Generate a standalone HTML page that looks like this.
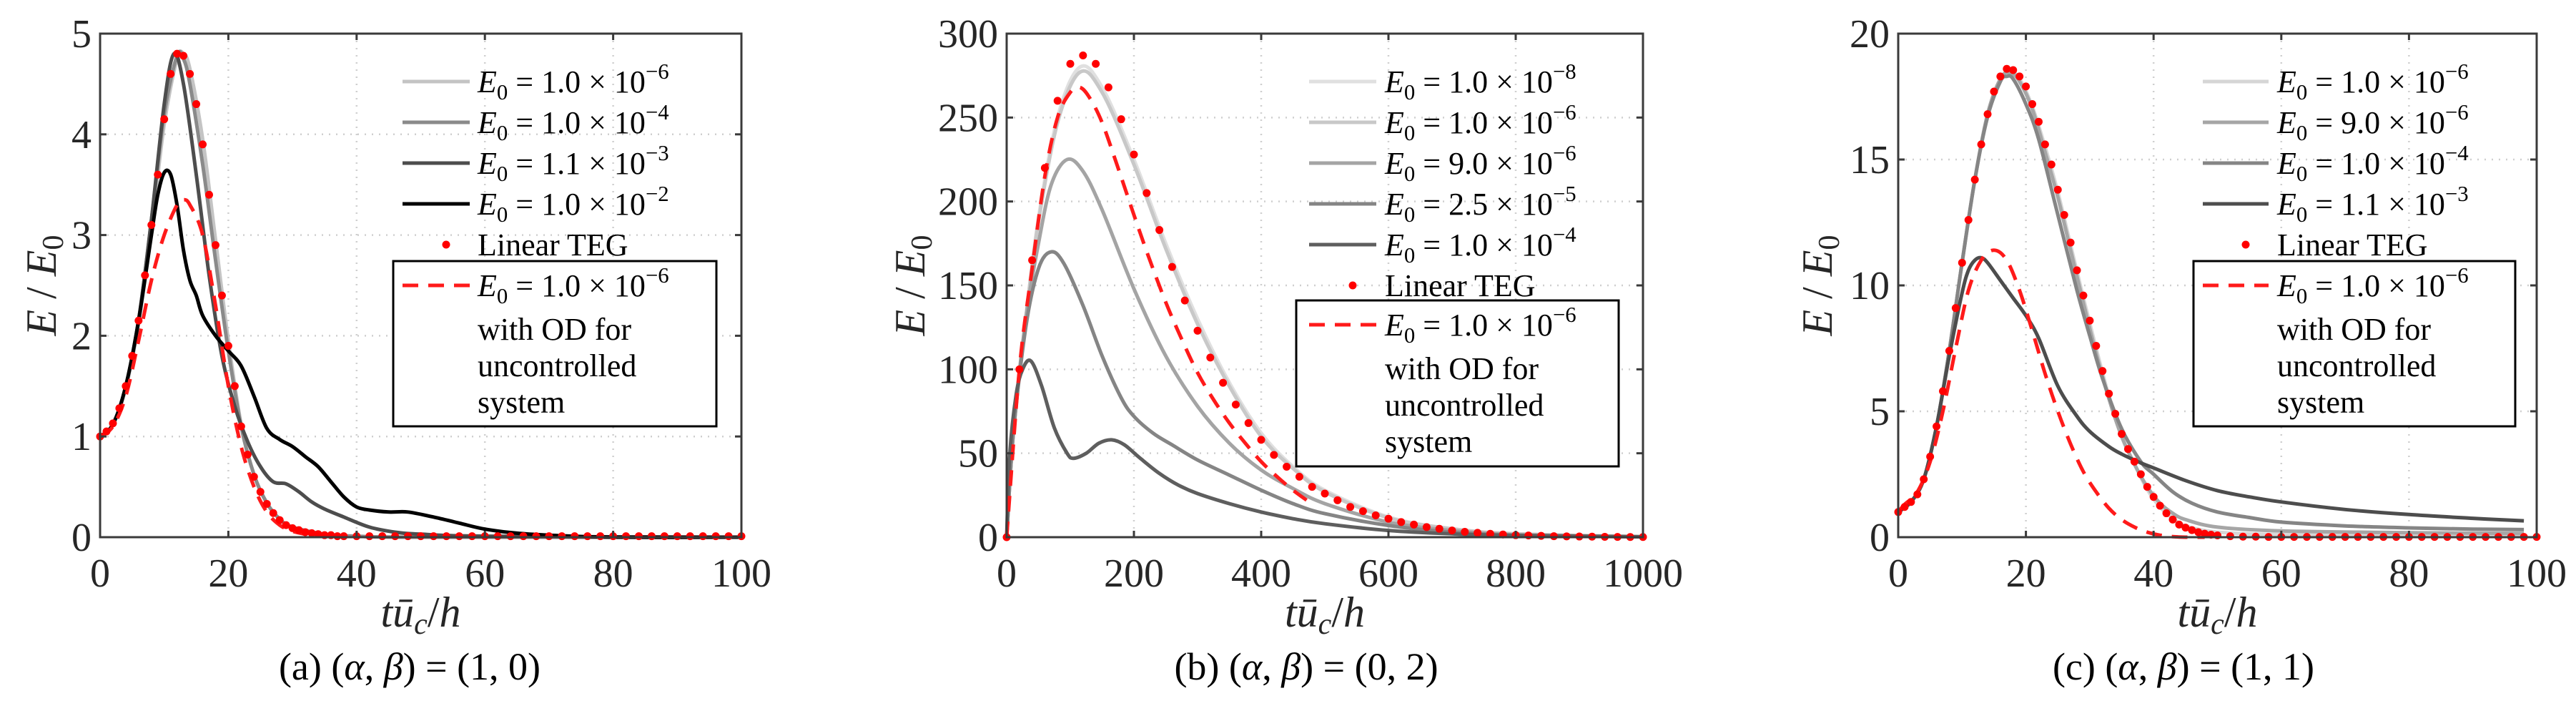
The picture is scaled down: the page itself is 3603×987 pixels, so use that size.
<!DOCTYPE html>
<html><head><meta charset="utf-8">
<style>
html,body{margin:0;padding:0;background:#fff;}
svg{display:block;font-family:"Liberation Serif",serif;}
</style></head>
<body>
<svg id="fig" width="3603" height="987" viewBox="0 0 3603 987" xmlns="http://www.w3.org/2000/svg"></svg>
<script>
// ---------- Panel (a) data ----------
const aTegX = [0,1,2,3,4,5,6,7,8,9,10,11,12,13,14,15,16,17,18,19,20,21,22,23,24,25,26,27,28,29,30,31,32,33,34,35,36,37,38,40,42,44,46,48,50,52,54,56,58,60,62,64,66,68,70,72,74,76,78,80,82,84,86,88,90,92,94,96,98,100];
const aTegY = [1.0,1.05,1.13,1.28,1.5,1.8,2.15,2.6,3.1,3.6,4.15,4.6,4.8,4.78,4.6,4.3,3.9,3.4,2.9,2.4,1.9,1.5,1.1,0.82,0.6,0.45,0.33,0.24,0.17,0.12,0.09,0.07,0.05,0.04,0.03,0.02,0.02,0.01,0.01,0.01,0.01,0.01,0.01,0.01,0.01,0.01,0.01,0.01,0.01,0.01,0.01,0.01,0.01,0.01,0.01,0.01,0.01,0.01,0.01,0.01,0.01,0.01,0.01,0.01,0.01,0.01,0.01,0.01,0.01,0.01];
const aS1X = [0,2,4,6,8,10,12,13,14,16,18,20,22,24,26,28,30,35,40,50,100];
const aS1Y = [1.0,1.12,1.48,2.12,3.05,4.1,4.75,4.8,4.65,3.95,2.95,1.95,1.12,0.62,0.34,0.18,0.1,0.03,0.01,0.0,0.0];
const aS2X = [0,2,4,6,8,10,12,13,14,16,18,20,22,24,26,28,30,35,40,50,100];
const aS2Y = [1.0,1.12,1.5,2.15,3.15,4.2,4.78,4.75,4.5,3.7,2.75,1.85,1.1,0.62,0.34,0.18,0.1,0.03,0.01,0.0,0.0];
const aS3X = [0,2,4,6,8,10,11.5,13,15,17,19,21,23,25,27,29,31,33,35,38,42,46,50,60,100];
const aS3Y = [1.0,1.12,1.5,2.15,3.15,4.3,4.8,4.5,3.6,2.6,1.8,1.3,0.95,0.7,0.55,0.53,0.45,0.35,0.28,0.2,0.1,0.05,0.03,0.01,0.0];
const aS4X = [0,2,4,6,8,9,10,11,12,13,14,15,16,18,20,22,24,26,28,30,32,34,36,38,40,42,45,48,52,56,60,65,70,80,100];
const aS4Y = [1.0,1.12,1.5,2.15,3.0,3.4,3.62,3.6,3.3,2.85,2.55,2.4,2.2,2.0,1.85,1.7,1.4,1.08,0.97,0.9,0.8,0.7,0.55,0.4,0.3,0.27,0.25,0.25,0.2,0.14,0.08,0.04,0.02,0.0,0.0];
const aDashX = [0,2,4,6,8,10,12,13,14,16,18,20,22,24,26,28,30,32];
const aDashY = [1.0,1.1,1.4,1.95,2.55,3.0,3.3,3.35,3.3,3.0,2.3,1.5,0.9,0.5,0.25,0.12,0.06,0.03];
// ---------- Panel (b) data ----------
const bTegX = [0,20,40,60,80,100,120,140,160,180,200,220,240,260,280,300,320,340,360,380,400,420,440,460,480,500,520,540,560,580,600,620,640,660,680,700,720,740,760,780,800,820,840,860,880,900,920,940,960,980,1000];
const bTegY = [0,100,165,220,260,282,287,282,268,249,228,205,183,161,141,123,107,92,79,68,58,49,42,36,30,26,22,18,15.5,13,11,9,7.5,6,5,4,3.2,2.6,2,1.6,1.2,1,0.8,0.6,0.5,0.4,0.3,0.2,0.15,0.1,0.1];
const bS1X = [0,10,30,50,80,115,150,200,250,300,350,400,450,500,600,700,800,1000];
const bS1Y = [0,60,130,190,250,280,268,225,175,130,92,62,42,28,12,5,2,0.3];
const bS2X = [0,10,30,50,80,115,150,200,250,300,350,400,450,500,600,700,800,1000];
const bS2Y = [0,60,130,188,247,277,265,222,172,127,90,60,41,27,11.5,5,2,0.3];
const bS3X = [0,10,30,50,70,95,120,150,200,250,300,350,400,450,500,600,700,800,1000];
const bS3Y = [0,60,130,175,210,225,218,195,148,108,78,56,40,29,20,9,4,1.5,0.3];
const bS4X = [0,10,30,50,70,90,120,150,180,200,230,260,300,350,400,450,500,600,700,800,1000];
const bS4Y = [0,60,125,160,170,163,138,108,83,72,62,55,46,37,28,20,14,7,3,1.2,0.2];
const bS5X = [0,5,15,25,38,55,75,95,105,125,145,165,185,210,240,270,300,350,400,450,500,600,700,800,1000];
const bS5Y = [0,50,85,100,105,90,65,50,47,50,56,58,55,47,38,31,26,20,15,11,8,4,2,1,0.2];
const bDashX = [0,20,40,60,80,100,115,130,150,175,200,225,250,275,300,325,350,375,400,425,450,475,480];
const bDashY = [0,100,160,215,250,265,268,262,247,220,192,165,140,118,98,82,68,56,45,36,28,21,19];
// ---------- Panel (c) data ----------
const cTegX = [0,1,2,3,4,5,6,7,8,9,10,11,12,13,14,15,16,17,18,19,20,21,22,23,24,25,26,27,28,29,30,31,32,33,34,35,36,37,38,39,40,41,42,43,44,45,46,47,48,49,50,52,54,56,58,60,62,64,66,68,70,72,74,76,78,80,82,84,86,88,90,92,94,96,98,100];
const cTegY = [1,1.2,1.4,1.7,2.3,3.2,4.4,5.8,7.4,9.1,10.9,12.6,14.2,15.6,16.8,17.7,18.3,18.6,18.55,18.3,17.9,17.2,16.5,15.6,14.8,13.8,12.8,11.7,10.6,9.6,8.6,7.6,6.6,5.7,4.9,4.1,3.5,3.0,2.5,2.0,1.6,1.25,0.95,0.7,0.5,0.38,0.28,0.2,0.14,0.1,0.07,0.04,0.02,0.02,0.01,0.01,0.01,0.01,0.01,0.01,0.01,0.01,0.01,0.01,0.01,0.01,0.01,0.01,0.01,0.01,0.01,0.01,0.01,0.01,0.01,0.01];
const cS1X = [0,2,4,6,8,10,12,14,16,17.5,19,21,23,25,27,29,31,33,35,37,39,41,43,45,50,60,80,98];
const cS1Y = [1,1.4,2.3,4.4,7.4,10.9,14.2,16.8,18.2,18.5,18.2,17.1,15.5,13.7,11.6,9.5,7.5,5.6,4.0,2.9,1.9,1.2,0.75,0.45,0.2,0.1,0.07,0.06];
const cS2X = [0,2,4,6,8,10,12,14,16,17.5,19,21,23,25,27,29,31,33,35,37,39,41,43,45,50,60,80,98];
const cS2Y = [1,1.4,2.3,4.4,7.4,10.9,14.2,16.8,18.2,18.45,18.1,17.0,15.3,13.5,11.4,9.3,7.3,5.5,4.0,2.9,2.0,1.35,0.95,0.7,0.4,0.25,0.18,0.15];
const cS3X = [0,2,4,6,8,10,12,14,16,17,18,20,22,25,28,30,32,35,38,40,43,46,50,55,60,70,80,90,98];
const cS3Y = [1,1.4,2.3,4.4,7.4,10.9,14.2,16.7,18.1,18.3,18.2,17.2,15.8,12.8,9.8,8.0,6.3,4.3,3.0,2.5,1.8,1.35,1.0,0.78,0.6,0.45,0.37,0.32,0.3];
const cS4X = [0,2,4,6,8,10,11,12,13,14,16,18,20,22,25,28,30,33,35,38,40,45,50,55,60,70,80,90,98];
const cS4Y = [1,1.4,2.3,4.4,7.2,9.7,10.6,11.0,11.1,10.9,10.2,9.5,8.8,7.9,6.0,4.8,4.2,3.6,3.3,2.95,2.75,2.25,1.85,1.6,1.4,1.1,0.9,0.75,0.65];
const cDashX = [0,1,3,5,7,9,11,13,15,17,19,21,23,25,27,29,31,33,35,37,39,41,43,45,48];
const cDashY = [1,1.3,1.8,3.0,5.0,7.5,9.8,11.0,11.4,11.0,9.8,8.2,6.5,5.0,3.7,2.6,1.8,1.15,0.7,0.4,0.2,0.08,0.02,0,0];
// tick labels
const aXTicks = [0,20,40,60,80,100];
const aYTicks = [0,1,2,3,4,5];
const bXTicks = [0,200,400,600,800,1000];
const bYTicks = [0,50,100,150,200,250,300];
const cXTicks = [0,20,40,60,80,100];
const cYTicks = [0,5,10,15,20];
const aLegend = [["1.0","6"],["1.0","4"],["1.1","3"],["1.0","2"]];
const bLegend = [["1.0","8"],["1.0","6"],["9.0","6"],["2.5","5"],["1.0","4"]];
const cLegend = [["1.0","6"],["9.0","6"],["1.0","4"],["1.1","3"]];

const NS = "http://www.w3.org/2000/svg";
const svg = document.getElementById('fig');
function mk(tag, attrs, parent){const e=document.createElementNS(NS,tag);for(const k in attrs)e.setAttribute(k,attrs[k]);(parent||svg).appendChild(e);return e;}
function smoothPath(pts){
  if(pts.length<2)return "";
  let d="M"+pts[0][0].toFixed(1)+","+pts[0][1].toFixed(1);
  for(let i=0;i<pts.length-1;i++){
    const p0=pts[Math.max(0,i-1)],p1=pts[i],p2=pts[i+1],p3=pts[Math.min(pts.length-1,i+2)];
    const c1=[p1[0]+(p2[0]-p0[0])/6,p1[1]+(p2[1]-p0[1])/6];
    const c2=[p2[0]-(p3[0]-p1[0])/6,p2[1]-(p3[1]-p1[1])/6];
    d+=" C"+c1[0].toFixed(1)+","+c1[1].toFixed(1)+" "+c2[0].toFixed(1)+","+c2[1].toFixed(1)+" "+p2[0].toFixed(1)+","+p2[1].toFixed(1);
  }
  return d;
}
function eqText(g,x,y,coef,exp,fs){
  const t=mk('text',{x:x,y:y,'font-size':fs},g);
  
  
  t.innerHTML='<tspan font-style="italic">E</tspan><tspan dy="10" font-size="'+(fs*0.7)+'">0</tspan><tspan dy="-10"> = '+coef+' × 10</tspan><tspan dy="-19" font-size="'+(fs*0.7)+'">−'+exp+'</tspan>';
  return t;
}

const panels = [
 {id:'a',L:140,R:1037,xmax:100,ymax:5,xt:aXTicks,yt:aYTicks,teg:[aTegX,aTegY],dash:[aDashX,aDashY],
  series:[[aS1X,aS1Y,'#c4c4c4'],[aS2X,aS2Y,'#8a8a8a'],[aS3X,aS3Y,'#4d4d4d'],[aS4X,aS4Y,'#000000']],
  leg:aLegend,legLine:[563,657],legText:668,rows0:114,box:[550,365,1002,596],ylabX:58,cap:[573,"(a)","(1, 0)"]},
 {id:'b',L:1408,R:2298,xmax:1000,ymax:300,xt:bXTicks,yt:bYTicks,teg:[bTegX,bTegY],dash:[bDashX,bDashY],
  series:[[bS1X,bS1Y,'#e0e0e0'],[bS2X,bS2Y,'#c8c8c8'],[bS3X,bS3Y,'#a4a4a4'],[bS4X,bS4Y,'#858585'],[bS5X,bS5Y,'#5e5e5e']],
  leg:bLegend,legLine:[1831,1925],legText:1937,rows0:114,box:[1813,420,2264,652],ylabX:1273,cap:[1827,"(b)","(0, 2)"]},
 {id:'c',L:2655,R:3548,xmax:100,ymax:20,xt:cXTicks,yt:cYTicks,teg:[cTegX,cTegY],dash:[cDashX,cDashY],
  series:[[cS1X,cS1Y,'#d6d6d6'],[cS2X,cS2Y,'#a6a6a6'],[cS3X,cS3Y,'#858585'],[cS4X,cS4Y,'#4d4d4d']],
  leg:cLegend,legLine:[3081,3173],legText:3185,rows0:114,box:[3068,365,3518,596],ylabX:2542,cap:[3054,"(c)","(1, 1)"]}
];
const T=47,B=751,rowH=57;

panels.forEach(p=>{
  const g=mk('g',{});
  
  
  const X=v=>p.L+(v/p.xmax)*(p.R-p.L);
  const Y=v=>B-(v/p.ymax)*(B-T);
  p.xt.forEach(v=>{ if(v>0&&v<p.xmax){const l=mk('line',{x1:X(v),x2:X(v),y1:T,y2:B,stroke:'#cfcfcf','stroke-width':2.5,'stroke-dasharray':'2 8'},g);
    }});
  p.yt.forEach(v=>{ if(v>0&&v<p.ymax){const l=mk('line',{x1:p.L,x2:p.R,y1:Y(v),y2:Y(v),stroke:'#cfcfcf','stroke-width':2.5,'stroke-dasharray':'2 8'},g);
    }});
  p.series.forEach((s,i)=>{
    const pts=s[0].map((x,j)=>[X(x),Y(s[1][j])]);
    const path=mk('path',{d:smoothPath(pts),fill:'none',stroke:s[2],'stroke-width':5,'stroke-linejoin':'round'},g);
    
    
  });
  {const pts=p.dash[0].map((x,j)=>[X(x),Y(p.dash[1][j])]);
   const path=mk('path',{d:smoothPath(pts),fill:'none',stroke:'#ff1a1a','stroke-width':5,'stroke-dasharray':'22 14'},g);
   
   }
  p.teg[0].forEach((x,j)=>{
    const c=mk('circle',{cx:X(x),cy:Y(p.teg[1][j]),r:5.5,fill:'#ff0000'},g);
    
    
  });
  const box=mk('rect',{x:p.L,y:T,width:p.R-p.L,height:B-T,fill:'none',stroke:'#3a3a3a','stroke-width':3},g);
  
  
  p.xt.forEach(v=>{
    mk('line',{x1:X(v),x2:X(v),y1:B,y2:B-9,stroke:'#3a3a3a','stroke-width':3},g);
    mk('line',{x1:X(v),x2:X(v),y1:T,y2:T+9,stroke:'#3a3a3a','stroke-width':3},g);
    const t=mk('text',{x:X(v),y:820,'font-size':56,'text-anchor':'middle',fill:'#262626'},g);
    
    
    t.textContent=v;
  });
  p.yt.forEach(v=>{
    mk('line',{x1:p.L,x2:p.L+9,y1:Y(v),y2:Y(v),stroke:'#3a3a3a','stroke-width':3},g);
    mk('line',{x1:p.R,x2:p.R-9,y1:Y(v),y2:Y(v),stroke:'#3a3a3a','stroke-width':3},g);
    const t=mk('text',{x:p.L-12,y:Y(v)+19,'font-size':56,'text-anchor':'end',fill:'#262626'},g);
    
    
    t.textContent=v;
  });
  const xl=mk('text',{x:(p.L+p.R)/2,y:876,'font-size':60,'text-anchor':'middle','font-style':'italic',fill:'#262626'},g);
  
  
  xl.innerHTML='tū<tspan dy="10" font-size="42">c</tspan><tspan dy="-10" font-style="normal">/</tspan>h';
  const yl=mk('text',{x:0,y:0,'font-size':60,'text-anchor':'middle','font-style':'italic',fill:'#262626',transform:'translate('+(p.ylabX+20)+',399) rotate(-90)'},g);
  
  
  yl.innerHTML='E<tspan font-style="normal"> / </tspan>E<tspan dy="10" font-size="42" font-style="normal">0</tspan>';
  const lg=mk('g',{},g);
  
  
  p.leg.forEach((e,i)=>{
    const y=p.rows0+i*rowH;
    const l=mk('line',{x1:p.legLine[0],x2:p.legLine[1],y1:y,y2:y,stroke:p.series[i][2],'stroke-width':5},lg);
    
    
    eqText(lg,p.legText,y+15,e[0],e[1],44);
  });
  const ty=p.rows0+p.leg.length*rowH;
  const dot=mk('circle',{cx:(p.legLine[0]+p.legLine[1])/2+14,cy:ty,r:5.5,fill:'#ff0000'},lg);
  
  
  const tt=mk('text',{x:p.legText,y:ty+15,'font-size':44},lg);
  
  
  tt.textContent='Linear TEG';
  const bx=mk('rect',{x:p.box[0],y:p.box[1],width:p.box[2]-p.box[0],height:p.box[3]-p.box[1],fill:'#fff',stroke:'#000','stroke-width':3},lg);
  
  
  const dy=p.box[1]+34;
  const dl=mk('line',{x1:p.legLine[0],x2:p.legLine[1],y1:dy,y2:dy,stroke:'#ff1a1a','stroke-width':5,'stroke-dasharray':'22 14'},lg);
  
  
  eqText(lg,p.legText,dy+15,"1.0","6",44);
  ["with OD for","uncontrolled","system"].forEach((s,k)=>{
    const t=mk('text',{x:p.legText,y:dy+76+k*51,'font-size':44},lg);
    
    
    t.textContent=s;
  });
  const cap=mk('text',{x:p.cap[0],y:950,'font-size':54,'text-anchor':'middle'},g);
  
  
  cap.innerHTML=p.cap[1]+'  (<tspan font-style="italic">α</tspan>, <tspan font-style="italic">β</tspan>) = '+p.cap[2];
});
</script>
</body></html>
